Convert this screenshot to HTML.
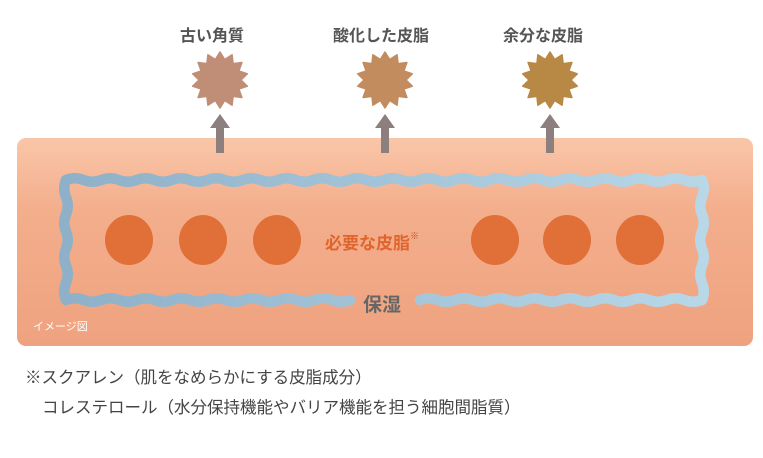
<!DOCTYPE html>
<html><head><meta charset="utf-8"><style>
html,body{margin:0;padding:0;background:#fff;width:763px;height:458px;overflow:hidden}
.t{position:absolute;font-family:"Liberation Sans","Noto Sans CJK JP",sans-serif;white-space:nowrap}
</style></head><body>
<svg id="s" width="763" height="458" style="position:absolute;left:0;top:0">
<defs>
<linearGradient id="bg" x1="0" y1="0" x2="0" y2="1">
<stop offset="0" stop-color="#f9c6a8"/><stop offset="0.35" stop-color="#f3ae8c"/><stop offset="1" stop-color="#efa27f"/></linearGradient>
<linearGradient id="bl" gradientUnits="userSpaceOnUse" x1="60" y1="0" x2="710" y2="0">
<stop offset="0" stop-color="#8eb0c8"/><stop offset="1" stop-color="#b8d8e8"/></linearGradient>
</defs>
<rect x="17" y="138" width="736" height="208" rx="9" fill="url(#bg)"/>
<g id="w" fill="none" stroke="url(#bl)" stroke-width="10.5" stroke-linecap="round" stroke-linejoin="round"></g>
<g fill="#e07038">
<ellipse cx="129" cy="240" rx="24" ry="25"/><ellipse cx="203" cy="240" rx="24" ry="25"/><ellipse cx="277" cy="240" rx="24" ry="25"/>
<ellipse cx="495" cy="240" rx="24" ry="25"/><ellipse cx="567" cy="240" rx="24" ry="25"/><ellipse cx="640" cy="240" rx="24" ry="25"/>
</g>
<g id="st"></g>
<g fill="#8c7f7d">
<polygon points="210,128 220,114 230,128"/><rect x="216" y="127" width="8" height="26"/>
<polygon points="375,128 385,114 395,128"/><rect x="381" y="127" width="8" height="26"/>
<polygon points="540,128 550,114 560,128"/><rect x="546" y="127" width="8" height="26"/>
</g>
</svg>
<div class="t" style="left:180px;top:22px;font-size:16px;font-weight:bold;color:#555">古い角質</div>
<div class="t" style="left:333px;top:22px;font-size:16px;font-weight:bold;color:#555">酸化した皮脂</div>
<div class="t" style="left:503px;top:22px;font-size:16px;font-weight:bold;color:#555">余分な皮脂</div>
<div class="t" style="left:325px;top:229px;font-size:17px;font-weight:bold;color:#e0652c">必要な皮脂<span style="font-size:9px;vertical-align:top;color:#c8501c">※</span></div>
<div class="t" style="left:363px;top:290px;font-size:19px;font-weight:bold;color:#666">保湿</div>
<div class="t" style="left:33px;top:318px;font-size:11px;color:#fff">イメージ図</div>
<div class="t" style="left:25px;top:364px;font-size:16.5px;color:#444">※スクアレン（肌をなめらかにする皮脂成分）</div>
<div class="t" style="left:42px;top:394px;font-size:16.5px;color:#444">コレステロール（水分保持機能やバリア機能を担う細胞間脂質）</div>
<script>
var NS="http://www.w3.org/2000/svg",w=document.getElementById('w');
function wave(x1,y1,x2,y2,n,a){var d="M"+x1+" "+y1,dx=(x2-x1)/n,dy=(y2-y1)/n,L=Math.hypot(dx,dy),nx=-dy/L*a,ny=dx/L*a;
for(var i=0;i<n;i++){var sx=x1+dx*i,sy=y1+dy*i,s=(i%2?1:-1);d+=" Q"+(sx+dx/2+nx*s)+" "+(sy+dy/2+ny*s)+" "+(sx+dx)+" "+(sy+dy);}
var p=document.createElementNS(NS,"path");p.setAttribute("d",d);w.appendChild(p);}
wave(66,180,702,180,36,3.5);wave(702,180,702,300,7,3.5);wave(702,300,420,300,16,3.5);wave(350,300,66,300,16,3.5);wave(66,300,66,180,7,3.5);
var st=document.getElementById('st');
[[220,80,"#c08d76"],[385,80,"#c38c5e"],[550,80,"#b88845"]].forEach(function(c){var pts=[];for(var i=0;i<28;i++){var r=i%2?21:28,a=i*Math.PI/14-Math.PI/2;pts.push((c[0]+r*Math.cos(a)).toFixed(1)+","+(c[1]+r*Math.sin(a)).toFixed(1));}
var p=document.createElementNS(NS,"polygon");p.setAttribute("points",pts.join(" "));p.setAttribute("fill",c[2]);p.setAttribute("stroke",c[2]);p.setAttribute("stroke-width","1.5");p.setAttribute("stroke-linejoin","round");st.appendChild(p);});
</script>
</body></html>
